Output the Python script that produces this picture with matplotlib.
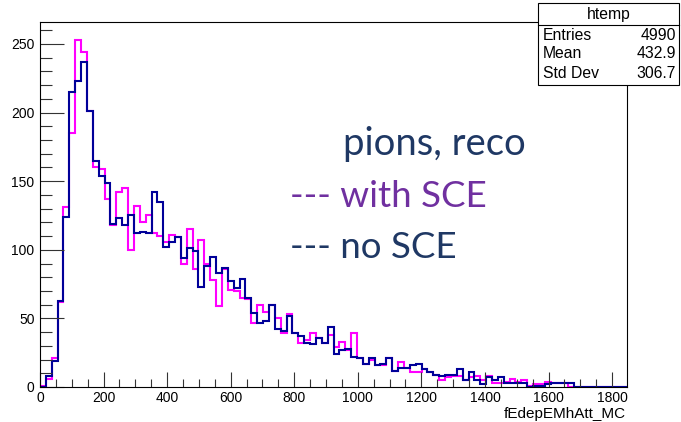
import numpy as np
import matplotlib.pyplot as plt
from matplotlib.ticker import MultipleLocator
from matplotlib.patches import Rectangle

# binning of the ROOT histogram: 100 bins
x_min, x_max, n_bins = 0, 1847, 100
edges = np.linspace(x_min, x_max, n_bins + 1)

# no SCE (blue)
no_sce = [0, 8, 19, 63, 124, 215, 223, 237, 201, 165,
          154, 149, 119, 123, 118, 125, 112, 113, 112, 142,
          135, 102, 106, 109, 94, 101, 99, 73,
          88, 95, 83, 87, 77, 72, 79, 65, 54, 47, 48, 60,
          42, 41, 52, 39, 37, 32, 31, 36, 32, 44, 24, 27,
          28, 22, 21, 17, 21, 16, 17, 21,
          12, 14, 14, 16, 17, 13, 11, 9, 8, 9,
          9, 13, 5, 11, 5, 2, 7, 5, 7, 3,
          3, 3, 3, 0, 1, 1, 2, 3, 3, 3,
          3, 0, 0, 0, 0, 0, 0, 0, 0, 0]

# with SCE (magenta)
with_sce = [1, 6, 21, 62, 131, 185, 253, 244, 201, 160,
            159, 137, 118, 142, 145, 100, 132, 120, 125, 112,
            110, 106, 111, 109, 90, 115, 86, 107,
            90, 78, 59, 86, 71, 70, 65, 64, 47, 60, 55, 60,
            50, 39, 53, 39, 32, 34, 39, 36, 32, 38, 29, 33,
            27, 39, 21, 17, 20, 16, 16, 21,
            12, 18, 14, 11, 11, 13, 11, 9, 5, 7,
            8, 8, 5, 7, 8, 5, 8, 3, 3, 4,
            6, 4, 5, 1, 2, 2, 4, 3, 3, 3,
            0, 0, 0, 0, 0, 0, 0, 0, 0, 0]

stat_names = ["Entries", "Mean", "Std Dev"]
stat_values = ["4990", "432.9", "306.7"]

W, H = 681, 422
fig = plt.figure(figsize=(W / 100, H / 100), dpi=100)
plt.rcParams['font.family'] = ['Liberation Sans', 'DejaVu Sans']


def fx(px):
    return px / W


def fy(py):
    return 1 - py / H


# frame in pixels: left 40, right 627, top 22, bottom 387
ax = fig.add_axes([fx(40), fy(387), (627 - 40) / W, (387 - 22) / H])
ax.stairs(with_sce, edges, color='#ff00ff', linewidth=1.5)
ax.stairs(no_sce, edges, color='#000099', linewidth=1.5)

ax.set_xlim(x_min, x_max)
ax.set_ylim(0, 266)
ax.xaxis.set_major_locator(MultipleLocator(200))
ax.xaxis.set_minor_locator(MultipleLocator(50))
ax.yaxis.set_major_locator(MultipleLocator(50))
ax.yaxis.set_minor_locator(MultipleLocator(10))
ax.tick_params(which='both', direction='in', top=False, right=False,
               labelsize=10, width=0.8, color='#333333')
ax.tick_params(axis='x', which='major', length=11, pad=3)
ax.tick_params(axis='x', which='minor', length=5.5)
ax.tick_params(axis='y', which='major', length=17.5, pad=4)
ax.tick_params(axis='y', which='minor', length=8.8)
for s in ax.spines.values():
    s.set_linewidth(0.8)

# x title, right aligned at the frame edge
fig.text(fx(626), fy(418), 'fEdepEMhAtt_MC', ha='right', va='baseline', fontsize=11)

# annotation text (slide overlay)
txt = dict(family=['Lato', 'DejaVu Sans'], va='baseline', ha='left')
fig.text(fx(343), fy(155), 'pions, reco', color='#1f3864', fontsize=27.5, **txt)
fig.text(fx(290), fy(207), '--- with SCE', color='#7030a0', fontsize=26.5, **txt)
fig.text(fx(290), fy(258), '--- no SCE', color='#1f3864', fontsize=26.5, **txt)

# stats box
bx0, bx1, by0, by1 = 538, 679, 3, 85
fig.patches.append(Rectangle((fx(bx0), fy(by1)), (bx1 - bx0) / W, (by1 - by0) / H,
                             transform=fig.transFigure, facecolor='white',
                             edgecolor='black', linewidth=0.8, zorder=5))
fig.add_artist(plt.Line2D([fx(bx0), fx(bx1)], [fy(25), fy(25)],
                          transform=fig.transFigure, color='black', linewidth=0.8, zorder=6))
fig.text(fx((bx0 + bx1) / 2), fy(14), 'htemp', ha='center', va='center',
         fontsize=11.3, zorder=7)
for i, (n, v) in enumerate(zip(stat_names, stat_values)):
    yy = fy(35 + i * 19)
    fig.text(fx(543), yy, n, ha='left', va='center', fontsize=11.3, zorder=7)
    fig.text(fx(676), yy, v, ha='right', va='center', fontsize=11.3, zorder=7)

fig.savefig('out.png', dpi=100)
